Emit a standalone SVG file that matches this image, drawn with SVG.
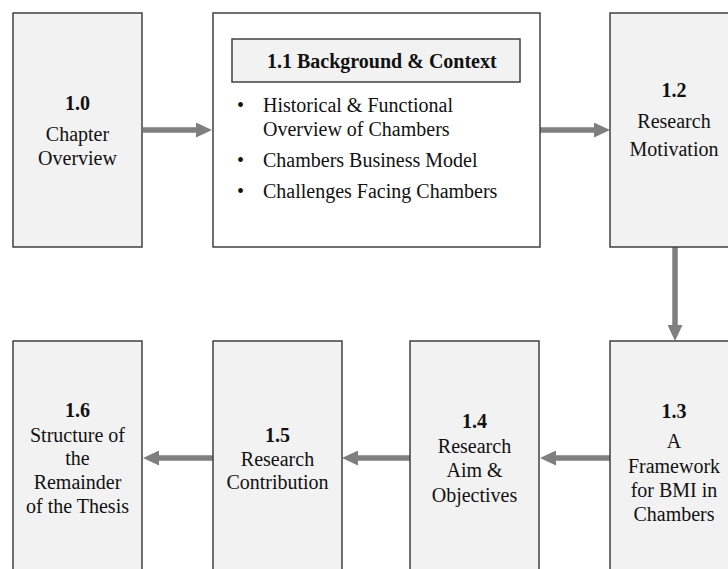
<svg xmlns="http://www.w3.org/2000/svg" width="728" height="569" viewBox="0 0 728 569">
  <defs>
    <marker id="head" markerUnits="userSpaceOnUse" markerWidth="16" markerHeight="15" refX="0" refY="7.5" orient="auto">
      <path d="M0,0 L16,7.5 L0,15 Z" fill="#7f7f7f"/>
    </marker>
  </defs>
  <style>
    .box { fill: #f2f2f2; stroke: #404040; stroke-width: 1.5; }
    .plain { fill: #ffffff; stroke: #404040; stroke-width: 1.5; }
    .t { font-size: 20px; fill: #111111; }
    .c { text-anchor: middle; }
    .b { font-weight: bold; }
    .link { stroke: #7f7f7f; stroke-width: 5.5; fill: none; marker-end: url(#head); }
  </style>
  <rect width="728" height="569" fill="#ffffff"/>

  <g id="connectors">
    <line class="link" x1="143" y1="130" x2="196" y2="130"/>
    <line class="link" x1="540" y1="130" x2="594" y2="130"/>
    <line class="link" x1="675" y1="247" x2="675" y2="325"/>
    <line class="link" x1="610" y1="458" x2="556" y2="458"/>
    <line class="link" x1="410" y1="458" x2="358" y2="458"/>
    <line class="link" x1="213" y1="458" x2="159" y2="458"/>
  </g>

  <g font-family="'Liberation Serif', 'DejaVu Serif', serif">
    <g id="n10">
      <rect class="box" x="13" y="13" width="129" height="234"/>
      <text class="t c b" x="77.5" y="110">1.0</text>
      <text class="t c" x="77.5" y="141">Chapter</text>
      <text class="t c" x="77.5" y="165">Overview</text>
    </g>

    <g id="n11">
      <rect class="plain" x="213" y="13" width="327" height="234"/>
      <rect class="box" x="232" y="39" width="288" height="43"/>
      <text class="t b" x="267" y="68">1.1 Background &amp; Context</text>
      <text class="t" x="237" y="112">•</text>
      <text class="t" x="263" y="112">Historical &amp; Functional</text>
      <text class="t" x="263" y="136">Overview of Chambers</text>
      <text class="t" x="237" y="167">•</text>
      <text class="t" x="263" y="167">Chambers Business Model</text>
      <text class="t" x="237" y="198">•</text>
      <text class="t" x="263" y="198">Challenges Facing Chambers</text>
    </g>

    <g id="n12">
      <rect class="box" x="610" y="13" width="129" height="234"/>
      <text class="t c b" x="674" y="97">1.2</text>
      <text class="t c" x="674" y="128">Research</text>
      <text class="t c" x="674" y="156">Motivation</text>
    </g>

    <g id="n13">
      <rect class="box" x="610" y="341" width="129" height="240"/>
      <text class="t c b" x="674" y="418">1.3</text>
      <text class="t c" x="674" y="448">A</text>
      <text class="t c" x="674" y="473">Framework</text>
      <text class="t c" x="674" y="497">for BMI in</text>
      <text class="t c" x="674" y="521">Chambers</text>
    </g>

    <g id="n14">
      <rect class="box" x="410" y="341" width="129" height="240"/>
      <text class="t c b" x="474.5" y="428">1.4</text>
      <text class="t c" x="474.5" y="453">Research</text>
      <text class="t c" x="474.5" y="477">Aim &amp;</text>
      <text class="t c" x="474.5" y="502">Objectives</text>
    </g>

    <g id="n15">
      <rect class="box" x="213" y="341" width="129" height="240"/>
      <text class="t c b" x="277.5" y="442">1.5</text>
      <text class="t c" x="277.5" y="466">Research</text>
      <text class="t c" x="277.5" y="489">Contribution</text>
    </g>

    <g id="n16">
      <rect class="box" x="13" y="341" width="129" height="240"/>
      <text class="t c b" x="77.5" y="417">1.6</text>
      <text class="t c" x="77.5" y="442">Structure of</text>
      <text class="t c" x="77.5" y="465">the</text>
      <text class="t c" x="77.5" y="489">Remainder</text>
      <text class="t c" x="77.5" y="513">of the Thesis</text>
    </g>
  </g>
</svg>
